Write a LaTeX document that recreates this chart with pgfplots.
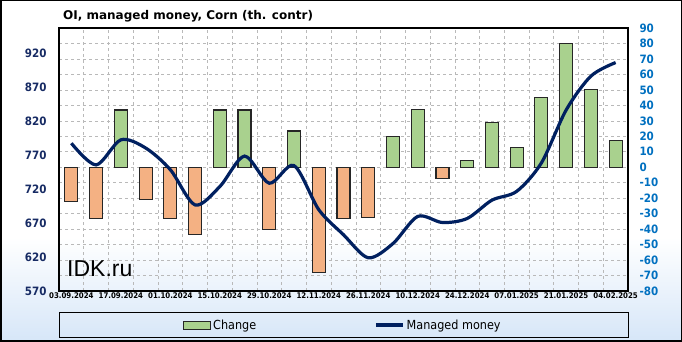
\documentclass[border=0pt]{standalone}
\usepackage{pgfplots}
\pgfplotsset{compat=1.18}
\usepackage{fontspec}
\setmainfont{DejaVu Sans Condensed}
\newfontfamily\arialfont{Liberation Sans}
\newfontfamily\titlefont{DejaVu Sans}
\definecolor{navyline}{RGB}{0,32,96}
\definecolor{leftnavy}{RGB}{23,43,100}
\definecolor{rightblue}{RGB}{0,112,192}
\definecolor{greenbar}{RGB}{169,209,142}
\definecolor{orangebar}{RGB}{244,177,131}
\definecolor{bgblue}{RGB}{214,230,248}
\definecolor{gridgray}{RGB}{185,185,185}
\begin{document}
\begin{tikzpicture}[x=1pt,y=1pt]
\useasboundingbox (0,0) rectangle (682,342);
\fill[white] (0,0) rectangle (682,342);
\shade[top color=white,bottom color=bgblue] (0,0) rectangle (682,105);
\begin{axis}[
  at={(59pt,51pt)}, anchor=south west,
  scale only axis, width=569pt, height=263pt,
  xmin=-0.5, xmax=22.5, ymin=-80, ymax=90,
  xtick={0,2,...,22},
  xticklabels={03.09.2024,17.09.2024,01.10.2024,15.10.2024,29.10.2024,12.11.2024,26.11.2024,10.12.2024,24.12.2024,07.01.2025,21.01.2025,04.02.2025},
  ytick={-80,-70,...,90},
  yticklabel pos=right,
  ymajorgrids, xminorgrids,
  minor xtick={0.5,1.5,...,21.5},
  major grid style={gridgray, dash pattern=on 3pt off 3pt, line width=0.6pt},
  minor grid style={gridgray, dash pattern=on 3pt off 3pt, line width=0.6pt},
  major tick length=0pt, minor tick length=0pt,
  axis line style={black, line width=1.2pt},
  /pgf/number format/assume math mode=true,
  yticklabel style={font=\bfseries\fontsize{11.5}{12}\selectfont, text=rightblue, anchor=west, xshift=8pt},
  xticklabel style={font=\bfseries\fontsize{7.8}{8}\selectfont, text=black, yshift=2pt},
]
\addplot[ybar, bar width=13pt, bar shift=0pt, fill=greenbar, draw=black!85, line width=1.1pt]
 coordinates {(2,37) (6,37) (7,37) (9,23.4) (13,20) (14,37.5) (16,4.5) (17,29) (18,13) (19,45) (20,80) (21,50) (22,17)};
\addplot[ybar, bar width=13pt, bar shift=0pt, fill=orangebar, draw=black!85, line width=1.1pt]
 coordinates {(0,-22) (1,-33) (3,-21) (4,-33) (5,-43.5) (8,-40) (10,-68) (11,-33) (12,-32.5) (15,-7.5)};
\end{axis}
\begin{axis}[
  at={(59pt,51pt)}, anchor=south west,
  scale only axis, width=569pt, height=263pt,
  xmin=-0.5, xmax=22.5, ymin=570, ymax=958,
  hide x axis,
  axis y line*=left,
  axis line style={draw=none},
  ytick={570,620,...,920},
  major tick length=0pt,
  /pgf/number format/assume math mode=true,
  /pgf/number format/1000 sep={},
  yticklabel style={font=\bfseries\fontsize{11.5}{12}\selectfont, text=leftnavy, anchor=east, xshift=-9pt},
  legend style={at={(0.499,-0.1293)}, anchor=center, draw=none, fill=none,
    font=\fontsize{12.5}{13}\selectfont, legend columns=2,
    /tikz/every even column/.append style={column sep=116pt}},
  legend cell align=left,
]
\addlegendimage{legend image code/.code={\draw[fill=greenbar,draw=black!85,line width=1pt] (0pt,-4pt) rectangle (27pt,4pt);}}
\addlegendentry{Change}
\addplot[smooth, line width=3.2pt, navyline,
  legend image code/.code={\draw[line width=3.5pt,navyline] (0pt,0pt) -- (27pt,0pt);}]
 coordinates {(0,788) (1,756) (2,793) (3,781) (4,749) (5,697) (6,724) (7,769) (8,729) (9,755) (10,690) (11,653) (12,619) (13,640) (14,680) (15,671) (16,677) (17,704) (18,717) (19,759) (20,837) (21,887) (22,907)};
\addlegendentry{Managed money}
\end{axis}
\node[anchor=base west, inner sep=0pt] at (63,322.7) {\titlefont\bfseries\fontsize{12}{12}\selectfont OI, managed money, Corn (th. contr)};
\node[anchor=base west, inner sep=0pt] at (67,65) {\arialfont\fontsize{23}{23}\selectfont IDK.ru};
\draw[line width=1pt] (59,4.5) rectangle (628,29);
\draw[line width=1.5pt] (0.75,0.75) rectangle (681.25,341.25);
\end{tikzpicture}
\end{document}
